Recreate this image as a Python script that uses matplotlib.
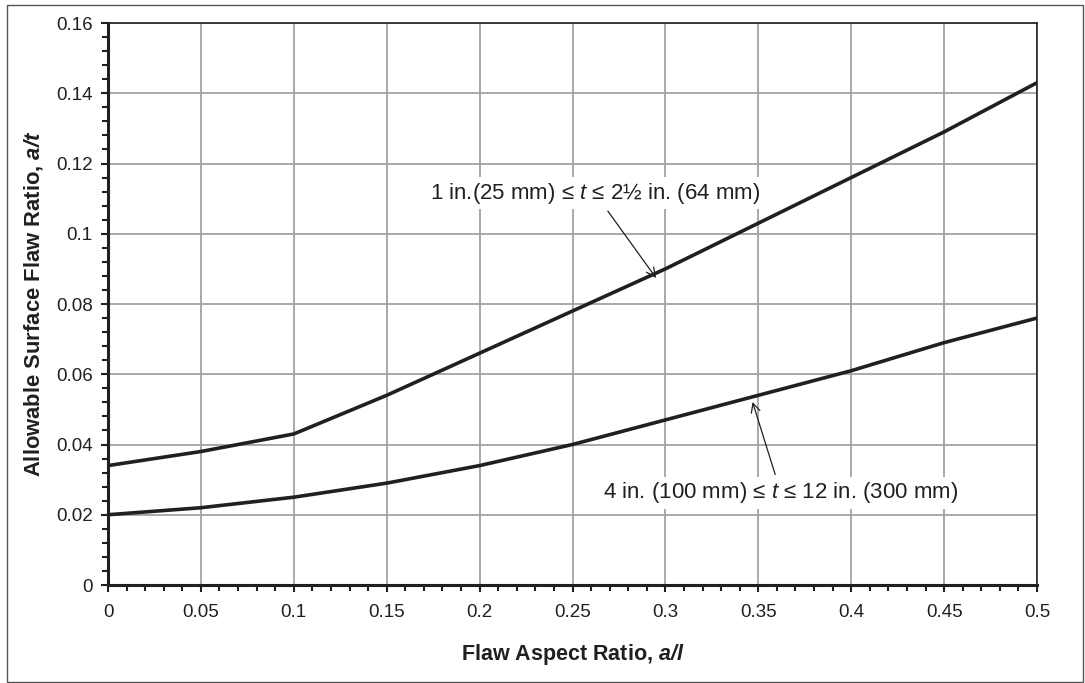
import matplotlib.pyplot as plt
from matplotlib.patches import Rectangle
from matplotlib.ticker import MultipleLocator, FuncFormatter

plt.rcParams['font.family'] = ['Liberation Sans', 'DejaVu Sans']
plt.rcParams['mathtext.fontset'] = 'custom'
plt.rcParams['mathtext.it'] = 'Liberation Sans:italic'
plt.rcParams['mathtext.bf'] = 'Liberation Sans:bold'
plt.rcParams['mathtext.bfit'] = 'Liberation Sans:bold:italic'
plt.rcParams['mathtext.rm'] = 'Liberation Sans'

# data
aspect = [0, 0.05, 0.1, 0.15, 0.2, 0.25, 0.3, 0.35, 0.4, 0.45, 0.5]
thin_plate = [0.034, 0.038, 0.043, 0.054, 0.066, 0.078, 0.090, 0.103, 0.116, 0.129, 0.143]
thick_plate = [0.020, 0.022, 0.025, 0.029, 0.034, 0.040, 0.047, 0.054, 0.061, 0.069, 0.076]

label_thin = r'1 in.(25 mm) ≤ $\mathit{t}$ ≤ 2½ in. (64 mm)'
label_thick = r'4 in. (100 mm) ≤ $\mathit{t}$ ≤ 12 in. (300 mm)'

fig = plt.figure(figsize=(10.85, 6.83), dpi=100)
ax = fig.add_axes([108/1085, 1 - 585/683, 929/1085, 562/683])

# figure border
fig.patches.append(Rectangle((7/1085, 0.002), 1 - 9/1085, 1 - 5/683 - 0.002,
                             transform=fig.transFigure, fill=False,
                             edgecolor='#555555', linewidth=1.0))

ax.plot(aspect, thin_plate, color='#231f20', linewidth=2.6, zorder=3)
ax.plot(aspect, thick_plate, color='#231f20', linewidth=2.6, zorder=3)

ax.set_xlim(0, 0.5)
ax.set_ylim(0, 0.16)
ax.xaxis.set_major_locator(MultipleLocator(0.05))
ax.xaxis.set_minor_locator(MultipleLocator(0.01))
ax.yaxis.set_major_locator(MultipleLocator(0.02))
ax.yaxis.set_minor_locator(MultipleLocator(0.004))

def fmt(v, pos):
    s = ('%.2f' % v).rstrip('0').rstrip('.')
    return s if s else '0'

ax.xaxis.set_major_formatter(FuncFormatter(fmt))
ax.yaxis.set_major_formatter(FuncFormatter(fmt))

ax.grid(True, which='major', color='#a3a3a3', linewidth=1.3)
ax.set_axisbelow(True)
ax.tick_params(which='both', direction='out', colors='#231f20', labelsize=13.5, width=1.5)
ax.tick_params(which='major', length=5)
ax.tick_params(which='minor', length=4)
ax.tick_params(axis='y', which='major', pad=6)
ax.tick_params(axis='x', which='major', pad=9)

for side in ['left', 'bottom']:
    ax.spines[side].set_linewidth(2.2)
    ax.spines[side].set_color('#231f20')
for side in ['top', 'right']:
    ax.spines[side].set_linewidth(1.2)
    ax.spines[side].set_color('#231f20')

ax.set_xlabel(r'Flaw Aspect Ratio, $\mathbfit{a/l}$', fontsize=15.5, fontweight='bold',
              color='#231f20', labelpad=15)
ax.set_ylabel(r'Allowable Surface Flaw Ratio, $\mathbfit{a/t}$', fontsize=15.8, fontweight='bold',
              color='#231f20', labelpad=8)

box = dict(boxstyle='square,pad=0.15', fc='white', ec='none')
ax.annotate(label_thin, xy=(0.295, 0.0874), xytext=(0.262, 0.1116),
            ha='center', va='center', fontsize=16, color='#231f20', bbox=box,
            arrowprops=dict(arrowstyle='->', color='#231f20', lw=0.9,
                            shrinkA=2, shrinkB=0))
ax.annotate(label_thick, xy=(0.3469, 0.0521), xytext=(0.3622, 0.0262),
            ha='center', va='center', fontsize=16, color='#231f20', bbox=box,
            arrowprops=dict(arrowstyle='->', color='#231f20', lw=0.9,
                            shrinkA=2, shrinkB=0))

fig.savefig('out.png', dpi=100)
